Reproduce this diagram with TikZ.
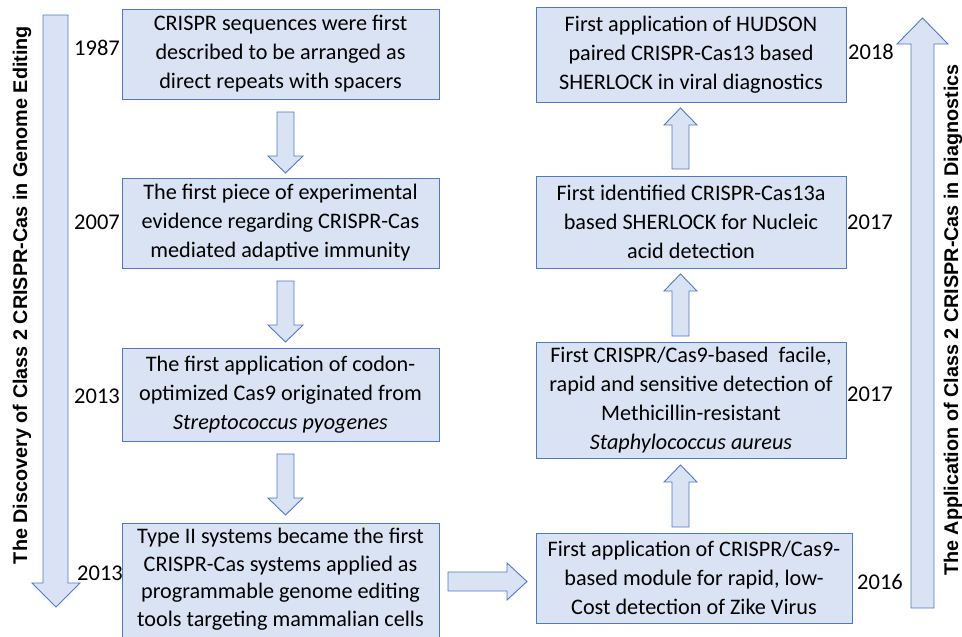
\documentclass[tikz,border=0pt]{standalone}
\usepackage{fontspec}
\setmainfont{Carlito}
\newfontfamily\labelfont{Liberation Sans}
\definecolor{boxfill}{RGB}{218,227,243}
\definecolor{boxline}{RGB}{80,120,200}
\begin{document}
\begin{tikzpicture}[x=1pt,y=-1pt,
  evbox/.style={draw=boxline,fill=boxfill,line width=0.9pt,align=center,inner sep=0pt,
    font=\fontsize{22.2}{29}\selectfont},
  evtext/.style={align=center,inner sep=0pt,font=\fontsize{22.2}{27.5}\selectfont},
  blockarrow/.style={draw=boxline,fill=boxfill,line width=0.9pt,line join=miter},
  yearlbl/.style={font=\fontsize{22.5}{26}\selectfont,inner sep=0pt},
  sidelbl/.style={font=\labelfont\bfseries\fontsize{19.8}{22}\selectfont,rotate=90,inner sep=0pt}]
\useasboundingbox (0,0) rectangle (962,637);
\clip (0,0) rectangle (962,637);
% big side arrows
\draw[blockarrow] (43,15) -- (68,15) -- (68,583) -- (80,583) -- (56,607) -- (32,583) -- (43,583) -- cycle;
\draw[blockarrow] (911,608) -- (934,608) -- (934,44) -- (948,44) -- (922.5,18) -- (897,44) -- (911,44) -- cycle;
\node[sidelbl] (lefttitle) at (22,295) {The Discovery of Class 2 CRISPR-Cas in Genome Editing};
\node[sidelbl] (righttitle) at (953,320) {The Application of Class 2 CRISPR-Cas in Diagnostics};
% left column
\node[evbox,minimum width=317pt,minimum height=90pt] (b1) at (280.5,54)
  {CRISPR sequences were first\\described to be arranged as\\direct repeats with spacers};
\node[evbox,minimum width=317pt,minimum height=90pt] (b2) at (280.5,223)
  {The first piece of experimental\\evidence regarding CRISPR-Cas\\mediated adaptive immunity};
\node[evbox,minimum width=317pt,minimum height=93pt] (b3) at (280.5,394.5)
  {The first application of codon-\\optimized Cas9 originated from\\\textit{Streptococcus pyogenes}};
\node[evbox,minimum width=317pt,minimum height=127pt] (b4) at (280.5,586.5) {};
\node[evtext] (b4text) at (280.5,579)
  {Type II systems became the first\\CRISPR-Cas systems applied as\\programmable genome editing\\tools targeting mammalian cells};
% right column
\node[evbox,minimum width=310pt,minimum height=95pt] (r1) at (691,54.5)
  {First application of HUDSON\\paired CRISPR-Cas13 based\\SHERLOCK in viral diagnostics};
\node[evbox,minimum width=310pt,minimum height=92pt] (r2) at (691,222)
  {First identified CRISPR-Cas13a\\based SHERLOCK for Nucleic\\acid detection};
\node[evbox,minimum width=310pt,minimum height=116pt] (r3) at (691,400)
  {First CRISPR/Cas9-based\ \ facile,\\rapid and sensitive detection of\\Methicillin-resistant\\\textit{Staphylococcus aureus}};
\node[evbox,minimum width=316pt,minimum height=90pt] (r4) at (694,578)
  {First application of CRISPR/Cas9-\\based module for rapid, low-\\Cost detection of Zike Virus};
% years
\node[yearlbl] (y1) at (97,48) {1987};
\node[yearlbl] (y2) at (97,222) {2007};
\node[yearlbl] (y3) at (97,396) {2013};
\node[yearlbl] (y4) at (100,573) {2013};
\node[yearlbl] (y5) at (871,52) {2018};
\node[yearlbl] (y6) at (870,222) {2017};
\node[yearlbl] (y7) at (870,394) {2017};
\node[yearlbl] (y8) at (880,582) {2016};
% down arrows (left column)
\foreach \t/\b/\p in {112/156/173, 281/325/342, 454/498/515}{
  \draw[blockarrow] (277,\t) -- (294,\t) -- (294,\b) -- (303,\b) -- (285.5,\p) -- (268,\b) -- (277,\b) -- cycle;
}
% up arrows (right column)
\foreach \p/\b/\e in {108/125/169, 274/291/336, 465/482/527}{
  \draw[blockarrow] (672,\e) -- (689,\e) -- (689,\b) -- (697,\b) -- (680.5,\p) -- (664,\b) -- (672,\b) -- cycle;
}
% right arrow between columns
\draw[blockarrow] (448,572) -- (507,572) -- (507,563) -- (527,581.5) -- (507,600) -- (507,591) -- (448,591) -- cycle;
\end{tikzpicture}
\end{document}
